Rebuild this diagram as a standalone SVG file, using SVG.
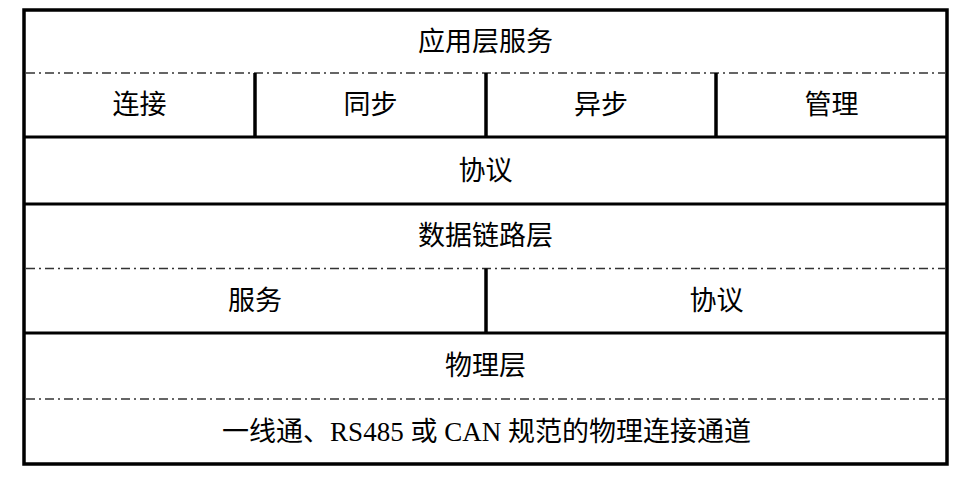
<svg xmlns="http://www.w3.org/2000/svg" width="972" height="480" viewBox="0 0 972 480">
  <style>
    .frame { fill: none; stroke: #000; stroke-width: 3.5; }
    .rule { stroke: #000; stroke-width: 3.2; }
    .div { stroke: #000; stroke-width: 3.5; }
    .dash { stroke: #333; stroke-width: 1.4; stroke-dasharray: 9 4 2 4; fill: none; }
    text { font-family: "Liberation Serif", "Noto Sans CJK SC", serif; font-size: 27px; fill: #000; text-anchor: middle; dominant-baseline: central; }
  </style>
  <rect width="972" height="480" fill="#fff"/>

  <!-- layer separators and cell dividers -->
  <g id="connectors">
    <rect class="frame" x="24" y="10" width="923" height="454"/>
    <line class="rule" x1="24" y1="137" x2="947" y2="137"/>
    <line class="rule" x1="24" y1="204" x2="947" y2="204"/>
    <line class="rule" x1="24" y1="333" x2="947" y2="333"/>
    <line class="dash" x1="26" y1="73" x2="945" y2="73"/>
    <line class="dash" x1="26" y1="268.5" x2="945" y2="268.5"/>
    <line class="dash" x1="26" y1="399" x2="945" y2="399"/>
    <line class="div" x1="255" y1="73" x2="255" y2="137"/>
    <line class="div" x1="486" y1="73" x2="486" y2="137"/>
    <line class="div" x1="716" y1="73" x2="716" y2="137"/>
    <line class="div" x1="486" y1="268.5" x2="486" y2="333"/>
  </g>

  <!-- application layer -->
  <g id="app-layer"><text x="485.5" y="42">应用层服务</text></g>
  <g id="app-connect"><text x="139.5" y="105">连接</text></g>
  <g id="app-sync"><text x="370.5" y="105">同步</text></g>
  <g id="app-async"><text x="601" y="105">异步</text></g>
  <g id="app-manage"><text x="831.5" y="105">管理</text></g>

  <!-- protocol -->
  <g id="protocol"><text x="485.5" y="170.5">协议</text></g>

  <!-- data link layer -->
  <g id="datalink"><text x="485.5" y="236">数据链路层</text></g>
  <g id="dl-service"><text x="255" y="300.5">服务</text></g>
  <g id="dl-protocol"><text x="716.5" y="300.5">协议</text></g>

  <!-- physical layer -->
  <g id="physical"><text x="485.5" y="366">物理层</text></g>
  <g id="phy-channel"><text x="486.5" y="431.5">一线通、RS485 或 CAN 规范的物理连接通道</text></g>
</svg>
